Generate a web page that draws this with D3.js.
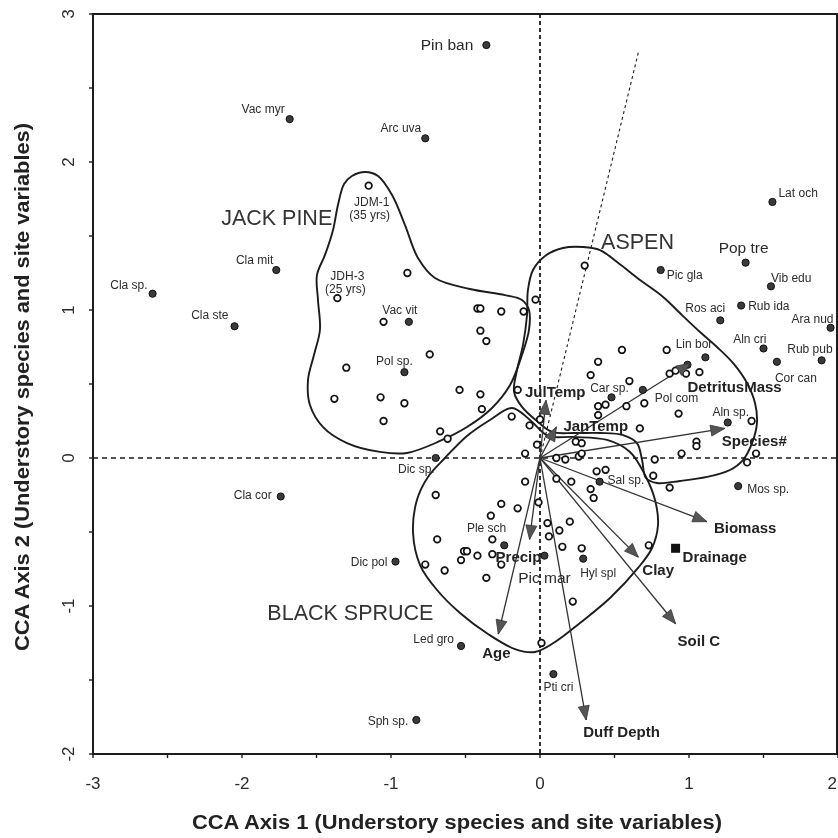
<!DOCTYPE html>
<html>
<head>
<meta charset="utf-8">
<script src="https://cdn.jsdelivr.net/npm/d3@7"></script>
<style>
  body { margin: 0; background: #fff; }
  svg { display: block; font-family: "Liberation Sans", Arial, sans-serif; filter: grayscale(100%); }
</style>
</head>
<body>
<svg id="chart" width="838" height="838"></svg>
<script>
// ---- CCA ordination scores ----

// Understory species (filled dots)
const speciesNames = ["Pin ban","Vac myr","Arc uva","Lat och","Cla mit","Cla sp.","Cla ste","Pop tre","Pic gla","Vib edu",
  "Rub ida","Ros aci","Ara nud","Aln cri","Rub pub","Cor can","Lin bor","","Pol com","Car sp.",
  "Vac vit","Pol sp.","Aln sp.","Mos sp.","Sal sp.","Dic sp.","Cla cor","Dic pol","Ple sch","Pic mar",
  "Hyl spl","Led gro","Pti cri","Sph sp."];
const speciesAxis1 = [-0.36,-1.68,-0.77,1.56,-1.77,-2.60,-2.05,1.38,0.81,1.55,
  1.35,1.21,1.95,1.50,1.89,1.59,1.11,0.99,0.69,0.48,
  -0.88,-0.91,1.26,1.33,0.40,-0.70,-1.74,-0.97,-0.24,0.03,
  0.29,-0.53,0.09,-0.83];
const speciesAxis2 = [2.79,2.29,2.16,1.73,1.27,1.11,0.89,1.32,1.27,1.16,
  1.03,0.93,0.88,0.74,0.66,0.65,0.68,0.63,0.46,0.41,
  0.92,0.58,0.24,-0.19,-0.16,0.00,-0.26,-0.70,-0.59,-0.66,
  -0.68,-1.27,-1.46,-1.77];

// Sites (open circles)
const siteAxis1 = [
  -1.15,-1.36,-0.89,-1.05,-0.42,-0.40,-0.26,-0.11,-0.03,-0.40,-0.36,-0.74,-1.30,-1.38,-1.07,-0.91,-1.05,-0.54,-0.40,-0.39,-0.67,-0.62,
  -0.15,-0.19,-0.07,0.00,-0.02,-0.10,
  0.30,0.55,0.85,0.39,0.34,0.60,0.87,0.91,0.98,1.07,0.39,0.44,0.39,0.58,0.70,0.93,0.67,1.42,0.24,0.28,1.05,1.05,0.11,0.17,0.26,0.28,0.95,0.77,0.76,0.87,1.45,1.39,
  -0.70,-0.10,0.11,0.21,0.38,0.44,0.34,0.36,-0.01,-0.26,-0.15,-0.33,0.05,0.20,0.13,0.06,0.15,0.28,-0.32,-0.51,-0.49,-0.42,-0.32,-0.26,-0.53,-0.64,-0.36,0.22,-0.69,-0.77,0.01,0.73];
const siteAxis2 = [
  1.84,1.08,1.25,0.92,1.01,1.01,0.99,0.99,1.07,0.86,0.79,0.70,0.61,0.40,0.41,0.37,0.25,0.46,0.43,0.33,0.18,0.13,
  0.46,0.28,0.22,0.26,0.09,0.03,
  1.30,0.73,0.73,0.65,0.56,0.52,0.57,0.59,0.57,0.58,0.35,0.36,0.29,0.35,0.37,0.30,0.20,0.25,0.11,0.10,0.11,0.08,0.00,-0.01,0.01,0.03,0.03,-0.01,-0.12,-0.20,0.03,-0.03,
  -0.25,-0.16,-0.14,-0.16,-0.09,-0.08,-0.21,-0.27,-0.30,-0.31,-0.34,-0.39,-0.44,-0.43,-0.49,-0.53,-0.60,-0.61,-0.55,-0.63,-0.63,-0.66,-0.65,-0.72,-0.69,-0.76,-0.81,-0.97,-0.55,-0.72,-1.25,-0.59];

// Site-variable biplot arrows
const envNames = ["JulTemp","JanTemp","DetritusMass","Species#","Biomass","Clay","Soil C","Duff Depth","Age","Precip"];
const envAxis1 = [0.04,0.11,1.01,1.24,1.12,0.66,0.91,0.31,-0.28,-0.07];
const envAxis2 = [0.39,0.21,0.64,0.20,-0.43,-0.67,-1.12,-1.77,-1.19,-0.55];

// Nominal site variable (centroid)
const nominalNames = ["Drainage"];
const nominalAxis1 = [0.91];
const nominalAxis2 = [-0.61];

// Passive (supplementary) axis direction
const passiveAxis1 = 0.66;
const passiveAxis2 = 2.74;

// Forest-type envelopes
const groupNames = ["JACK PINE","ASPEN","BLACK SPRUCE"];
const jackPineHull = [[-1.262,1.905],[-1.174,1.932],[-1.087,1.905],[-0.993,1.777],[-0.906,1.574],[-0.819,1.351],[-0.705,1.216],
  [-0.470,1.142],[-0.235,1.101],[-0.121,1.068],[-0.074,1.000],[-0.074,0.865],[-0.121,0.696],[-0.201,0.493],[-0.322,0.338],
  [-0.490,0.209],[-0.671,0.115],[-0.893,0.034],[-1.074,0.041],[-1.295,0.101],[-1.456,0.209],[-1.544,0.358],[-1.557,0.527],
  [-1.517,0.696],[-1.477,0.865],[-1.490,1.068],[-1.497,1.236],[-1.443,1.372],[-1.389,1.541],[-1.356,1.709],[-1.315,1.851]];
const aspenHull = [[0.289,1.426],[0.403,1.405],[0.517,1.324],[0.671,1.203],[0.826,1.088],[0.960,0.959],[1.074,0.851],[1.188,0.750],
  [1.295,0.642],[1.389,0.507],[1.443,0.372],[1.456,0.236],[1.423,0.101],[1.362,-0.014],[1.275,-0.081],[1.121,-0.128],
  [0.940,-0.155],[0.785,-0.169],[0.711,-0.135],[0.685,-0.014],[0.651,0.101],[0.557,0.155],[0.403,0.169],[0.235,0.169],
  [0.081,0.176],[-0.013,0.243],[-0.121,0.345],[-0.174,0.446],[-0.154,0.595],[-0.114,0.764],[-0.087,0.966],[-0.081,1.135],
  [-0.047,1.270],[0.034,1.365],[0.154,1.419]];
const spruceHull = [[-0.188,0.338],[-0.067,0.257],[0.054,0.149],[0.221,0.142],[0.450,0.122],[0.604,0.041],[0.705,-0.115],
  [0.772,-0.284],[0.792,-0.453],[0.752,-0.608],[0.658,-0.743],[0.470,-0.946],[0.268,-1.115],[0.101,-1.243],[-0.034,-1.311],
  [-0.168,-1.291],[-0.349,-1.189],[-0.537,-1.047],[-0.691,-0.892],[-0.805,-0.723],[-0.852,-0.507],[-0.826,-0.284],
  [-0.752,-0.128],[-0.638,0.000],[-0.490,0.149],[-0.336,0.257]];
const groupLabelAt = [[-2.14,1.574],[0.41,1.412],[-1.83,-1.095]];

// Site labels for the two reference jack pine stands
const standLabels = [["JDM-1","(35 yrs)"],["JDH-3","(25 yrs)"]];
const standAxis1 = [-1.15,-1.36];
const standAxis2 = [1.84,1.08];
// label layout: [dx line 1, dx line 2, dy line 1] in px
const standLabelLayout = [[3, 1, 20], [10, 8, -18]];

// Axis ticks
const xMajorTicks = [-3,-2,-1,0,1,2];
const xMinorTicks = [-2.5,-1.5,-0.5,0.5,1.5];
const yMajorTicks = [-2,-1,0,1,2,3];
const yMinorTicks = [-1.5,-0.5,0.5,1.5,2.5];
const xTitle = "CCA Axis 1 (Understory species and site variables)";
const yTitle = "CCA Axis 2 (Understory species and site variables)";

// ---- label layout (text anchor, offsets in px, font size) ----
const speciesLabelLayout = {
  "Pin ban": ["end",-13,5,15.5], "Vac myr": ["end",-5,-6,12], "Arc uva": ["end",-4,-6,12],
  "Lat och": ["start",6,-5,12], "Cla mit": ["end",-3,-6,12], "Cla sp.": ["end",-5,-5,12],
  "Cla ste": ["end",-6,-7,12], "Pop tre": ["middle",-2,-10,15.5], "Pic gla": ["start",6,9,12],
  "Vib edu": ["start",0,-4,12], "Rub ida": ["start",7,4,12], "Ros aci": ["end",5,-8,12],
  "Ara nud": ["end",3,-5,12], "Aln cri": ["end",3,-5,12], "Rub pub": ["end",11,-7,12],
  "Cor can": ["start",-2,20,12], "Lin bor": ["end",7,-9,12], "Pol com": ["start",12,12,12],
  "Car sp.": ["middle",-2,-5,12], "Vac vit": ["middle",-9,-8,12], "Pol sp.": ["middle",-10,-7,12],
  "Aln sp.": ["middle",3,-6,12], "Mos sp.": ["start",9,7,12], "Sal sp.": ["start",8,2,12],
  "Dic sp.": ["end",-1,15,12], "Cla cor": ["end",-9,3,12], "Dic pol": ["end",-8,4,12],
  "Ple sch": ["end",2,-13,12], "Pic mar": ["middle",0,27,15.5], "Hyl spl": ["start",-3,18,12],
  "Led gro": ["end",-7,-3,12], "Pti cri": ["start",-10,17,12], "Sph sp.": ["end",-8,5,12]
};
const envLabelLayout = {
  "JulTemp": [-21,-3], "JanTemp": [7,4], "DetritusMass": [-3,29], "Species#": [-3,18],
  "Biomass": [7,11], "Clay": [4,18], "Soil C": [2,22], "Duff Depth": [-3,17], "Age": [-16,24], "Precip": [-34,23]
};

// ---- drawing ----
const svg = d3.select("#chart");
const x = d3.scaleLinear().domain([-3, 2]).range([93, 838]);
const y = d3.scaleLinear().domain([-2, 3]).range([754, 14]);
const ink = "#1c1c1c";
const textInk = "#2b2b2b";

// frame
svg.append("rect")
  .attr("x", x(-3)).attr("y", y(3))
  .attr("width", x(2) - x(-3) - 1).attr("height", y(-2) - y(3))
  .attr("fill", "none").attr("stroke", ink).attr("stroke-width", 2);

// ticks
const tickG = svg.append("g").attr("stroke", ink).attr("stroke-width", 1.4);
tickG.selectAll("line.xt").data(xMajorTicks.concat(xMinorTicks)).join("line")
  .attr("x1", d => x(d)).attr("x2", d => x(d))
  .attr("y1", y(-2)).attr("y2", y(-2) + 4);
tickG.selectAll("line.yt").data(yMajorTicks.concat(yMinorTicks)).join("line")
  .attr("y1", d => y(d)).attr("y2", d => y(d))
  .attr("x1", x(-3)).attr("x2", x(-3) - 4);

const lastX = xMajorTicks[xMajorTicks.length - 1];
svg.append("g").selectAll("text").data(xMajorTicks).join("text")
  .attr("x", d => d === lastX ? x(d) - 1 : x(d)).attr("y", 789)
  .attr("text-anchor", d => d === lastX ? "end" : "middle")
  .attr("font-size", 17).attr("fill", textInk)
  .text(d => String(d));
svg.append("g").selectAll("text").data(yMajorTicks).join("text")
  .attr("transform", d => `translate(74,${y(d)}) rotate(-90)`)
  .attr("text-anchor", "middle").attr("font-size", 17).attr("fill", textInk)
  .text(d => String(d));

// axis titles
svg.append("text")
  .attr("x", 457).attr("y", 829)
  .attr("text-anchor", "middle").attr("font-size", 20).attr("font-weight", "bold")
  .attr("fill", "#222").attr("textLength", 530).attr("lengthAdjust", "spacingAndGlyphs")
  .text(xTitle);
svg.append("text")
  .attr("transform", "translate(29,387) rotate(-90)")
  .attr("text-anchor", "middle").attr("font-size", 20).attr("font-weight", "bold")
  .attr("fill", "#222").attr("textLength", 528).attr("lengthAdjust", "spacingAndGlyphs")
  .text(yTitle);

// zero lines and passive axis
svg.append("line")
  .attr("x1", x(-3)).attr("x2", x(2)).attr("y1", y(0)).attr("y2", y(0))
  .attr("stroke", ink).attr("stroke-width", 1.5).attr("stroke-dasharray", "5,4");
svg.append("line")
  .attr("x1", x(0)).attr("x2", x(0)).attr("y1", y(3)).attr("y2", y(-2))
  .attr("stroke", ink).attr("stroke-width", 1.8).attr("stroke-dasharray", "4,3");
svg.append("line")
  .attr("x1", x(0)).attr("y1", y(0)).attr("x2", x(passiveAxis1)).attr("y2", y(passiveAxis2))
  .attr("stroke", ink).attr("stroke-width", 1.1).attr("stroke-dasharray", "3,3");

// envelopes
const hullLine = d3.line().x(d => x(d[0])).y(d => y(d[1])).curve(d3.curveCatmullRomClosed.alpha(0.5));
svg.append("g").selectAll("path").data([jackPineHull, aspenHull, spruceHull]).join("path")
  .attr("d", hullLine).attr("fill", "none").attr("stroke", ink).attr("stroke-width", 1.9);

// arrow shafts
const envData = envNames.map((n, i) => ({ name: n, a1: envAxis1[i], a2: envAxis2[i] }));
svg.append("g").selectAll("line").data(envData).join("line")
  .attr("x1", x(0)).attr("y1", y(0))
  .attr("x2", d => x(d.a1)).attr("y2", d => y(d.a2))
  .attr("stroke", "#333").attr("stroke-width", 1.3);

// sites
const siteData = siteAxis1.map((v, i) => [v, siteAxis2[i]]);
svg.append("g").selectAll("circle").data(siteData).join("circle")
  .attr("cx", d => x(d[0])).attr("cy", d => y(d[1])).attr("r", 3.3)
  .attr("fill", "#fff").attr("stroke", "#111").attr("stroke-width", 1.7);

// species
const spData = speciesNames.map((n, i) => ({ name: n, a1: speciesAxis1[i], a2: speciesAxis2[i] }));
svg.append("g").selectAll("circle").data(spData).join("circle")
  .attr("cx", d => x(d.a1)).attr("cy", d => y(d.a2)).attr("r", 3.6)
  .attr("fill", "#3a3a3a").attr("stroke", "#111").attr("stroke-width", 1);

// arrow heads
function headPoints(d) {
  const tx = x(d.a1), ty = y(d.a2);
  const ang = Math.atan2(ty - y(0), tx - x(0));
  const L = 14, W = 5.5;
  const bx = tx - L * Math.cos(ang), by = ty - L * Math.sin(ang);
  const nx = -Math.sin(ang), ny = Math.cos(ang);
  return [[tx, ty], [bx + W * nx, by + W * ny], [bx - W * nx, by - W * ny]].map(p => p.join(",")).join(" ");
}
svg.append("g").selectAll("polygon").data(envData).join("polygon")
  .attr("points", headPoints)
  .attr("fill", "#555").attr("stroke", "#333").attr("stroke-width", 0.8);

// drainage centroid
const nomData = nominalNames.map((n, i) => ({ name: n, a1: nominalAxis1[i], a2: nominalAxis2[i] }));
svg.append("g").selectAll("rect").data(nomData).join("rect")
  .attr("x", d => x(d.a1) - 4.5).attr("y", d => y(d.a2) - 4.5)
  .attr("width", 9).attr("height", 9).attr("fill", "#111");

// species labels
svg.append("g").selectAll("text").data(spData.filter(d => d.name)).join("text")
  .attr("x", d => x(d.a1) + speciesLabelLayout[d.name][1])
  .attr("y", d => y(d.a2) + speciesLabelLayout[d.name][2])
  .attr("text-anchor", d => speciesLabelLayout[d.name][0])
  .attr("font-size", d => speciesLabelLayout[d.name][3])
  .attr("fill", textInk)
  .text(d => d.name);

// variable labels
svg.append("g").selectAll("text").data(envData).join("text")
  .attr("x", d => x(d.a1) + envLabelLayout[d.name][0])
  .attr("y", d => y(d.a2) + envLabelLayout[d.name][1])
  .attr("font-size", 15).attr("font-weight", "bold").attr("fill", "#222")
  .text(d => d.name);
svg.append("g").selectAll("text").data(nomData).join("text")
  .attr("x", d => x(d.a1) + 7).attr("y", d => y(d.a2) + 14)
  .attr("font-size", 15).attr("font-weight", "bold").attr("fill", "#222")
  .text(d => d.name);

// stand labels
standLabels.forEach((lines, i) => {
  const [dx1, dx2, dy1] = standLabelLayout[i];
  const t = svg.append("text").attr("text-anchor", "middle").attr("font-size", 12).attr("fill", textInk);
  lines.forEach((s, k) => {
    t.append("tspan")
      .attr("x", x(standAxis1[i]) + (k === 0 ? dx1 : dx2))
      .attr("y", y(standAxis2[i]) + dy1 + 13 * k)
      .text(s);
  });
});

// forest type labels
svg.append("g").selectAll("text").data(groupNames).join("text")
  .attr("x", (d, i) => x(groupLabelAt[i][0])).attr("y", (d, i) => y(groupLabelAt[i][1]))
  .attr("font-size", 21.5).attr("fill", "#333")
  .text(d => d);
</script>
</body>
</html>
